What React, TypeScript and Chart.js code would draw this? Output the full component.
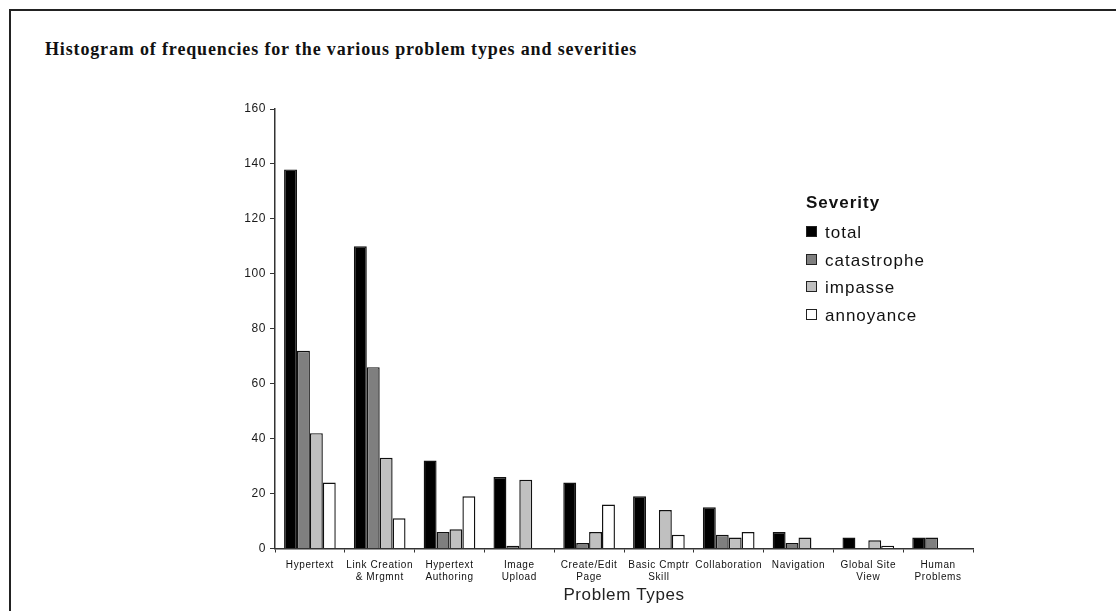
import React, { useEffect, useRef } from "react";
import { Chart, registerables } from "chart.js";

Chart.register(...registerables);

const categories: string[][] = [
  ["Hypertext"],
  ["Link Creation", "& Mrgmnt"],
  ["Hypertext", "Authoring"],
  ["Image", "Upload"],
  ["Create/Edit", "Page"],
  ["Basic Cmptr", "Skill"],
  ["Collaboration"],
  ["Navigation"],
  ["Global Site", "View"],
  ["Human", "Problems"],
];

const seriesNames = ["total", "catastrophe", "impasse", "annoyance"];
const totalValues = [138, 110, 32, 26, 24, 19, 15, 6, 4, 4];
const catastropheValues = [72, 66, 6, 1, 2, 0, 5, 2, 0, 4];
const impasseValues = [42, 33, 7, 25, 6, 14, 4, 4, 3, 0];
const annoyanceValues = [24, 11, 19, 0, 16, 5, 6, 0, 1, 0];
const seriesColors = ["#000000", "#7f7f7f", "#c0c0c0", "#ffffff"];

const yMin = 0;
const yMax = 160;
const yStep = 20;

const chartTitle = "Histogram of frequencies for the various problem types and severities";
const xAxisTitle = "Problem Types";
const legendTitle = "Severity";

const SANS = "'Liberation Sans', Arial, sans-serif";
const SERIF = "'Liberation Serif', 'Times New Roman', serif";

const letterSpacingPlugin = {
  id: "letterSpacing",
  beforeDraw(chart: any) {
    chart.ctx.letterSpacing = "0.6px";
  },
};

export default function App() {
  const canvasRef = useRef<HTMLCanvasElement | null>(null);

  useEffect(() => {
    if (!canvasRef.current) return;
    const seriesValues = [totalValues, catastropheValues, impasseValues, annoyanceValues];
    const chart = new Chart(canvasRef.current, {
      type: "bar",
      data: {
        labels: categories,
        datasets: seriesNames.map((name, i) => ({
          label: name,
          data: seriesValues[i],
          backgroundColor: seriesColors[i],
          borderColor: "#111111",
          borderWidth: 1.4,
          borderSkipped: "bottom",
          categoryPercentage: 0.74,
          barPercentage: 1.0,
        })),
      },
      options: {
        animation: false,
        responsive: true,
        maintainAspectRatio: false,
        layout: { padding: { top: 109, right: 143, left: 0, bottom: 0 } },
        plugins: {
          legend: { display: false },
          tooltip: { enabled: false },
          title: { display: false },
        },
        scales: {
          x: {
            grid: {
              display: true,
              drawOnChartArea: false,
              drawTicks: true,
              tickLength: 4,
              color: "#333333",
              offset: true,
            },
            border: { display: true, color: "#333333", width: 1.5 },
            ticks: {
              color: "#111111",
              font: { family: SANS, size: 10, lineHeight: 1.2 },
              padding: 6.5,
              maxRotation: 0,
              minRotation: 0,
              autoSkip: false,
            },
            title: {
              display: true,
              text: xAxisTitle,
              color: "#222222",
              font: { family: SANS, size: 17 },
              padding: { top: 0, bottom: 5 },
            },
            afterFit: (scale: any) => {
              scale.height = 62.5;
            },
          },
          y: {
            min: yMin,
            max: yMax,
            grid: {
              display: true,
              drawOnChartArea: false,
              drawTicks: true,
              tickLength: 5,
              color: "#333333",
            },
            border: { display: true, color: "#333333", width: 1.5 },
            ticks: {
              stepSize: yStep,
              color: "#1a1a1a",
              font: { family: SANS, size: 12 },
              padding: 4,
            },
            afterFit: (scale: any) => {
              scale.width = 275;
            },
          },
        },
      },
      plugins: [letterSpacingPlugin],
    });
    return () => chart.destroy();
  }, []);

  const legendTops = [224, 251.5, 279, 306.5];

  return (
    <div
      style={{
        position: "fixed",
        left: 0,
        top: 0,
        width: 1116,
        height: 611,
        background: "#ffffff",
        overflow: "hidden",
      }}
    >
      <div
        style={{
          position: "absolute",
          left: 9,
          top: 8.5,
          width: 1300,
          height: 800,
          borderLeft: "2px solid #222",
          borderTop: "2px solid #222",
        }}
      />
      <div
        style={{
          position: "absolute",
          left: 45,
          top: 40,
          fontFamily: SERIF,
          fontWeight: "bold",
          fontSize: 18,
          lineHeight: "18px",
          letterSpacing: "0.85px",
          color: "#111",
          whiteSpace: "nowrap",
        }}
      >
        {chartTitle}
      </div>
      <div style={{ position: "absolute", left: 0, top: 0, width: 1116, height: 611 }}>
        <canvas ref={canvasRef} />
      </div>
      <div
        style={{
          position: "absolute",
          left: 806,
          top: 194,
          fontFamily: SANS,
          fontWeight: "bold",
          fontSize: 17,
          lineHeight: "17px",
          letterSpacing: "1px",
          color: "#111",
          whiteSpace: "nowrap",
        }}
      >
        {legendTitle}
      </div>
      {seriesNames.map((name, i) => (
        <React.Fragment key={name}>
          <div
            style={{
              position: "absolute",
              left: 806,
              top: legendTops[i] + 2,
              width: 9,
              height: 9,
              background: seriesColors[i],
              border: "1px solid #222",
            }}
          />
          <div
            style={{
              position: "absolute",
              left: 825,
              top: legendTops[i],
              fontFamily: SANS,
              fontSize: 17,
              lineHeight: "17px",
              letterSpacing: "1px",
              color: "#111",
              whiteSpace: "nowrap",
            }}
          >
            {name}
          </div>
        </React.Fragment>
      ))}
    </div>
  );
}
